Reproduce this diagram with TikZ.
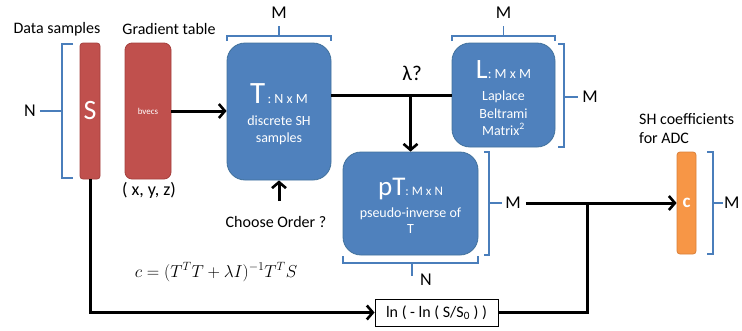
\documentclass[tikz,border=0pt]{standalone}
\usepackage[no-math]{fontspec}
\setmainfont{Carlito}
\usetikzlibrary{arrows.meta}
\definecolor{boxred}{HTML}{C0504D}
\definecolor{redline}{HTML}{A5403D}
\definecolor{boxblue}{HTML}{4F81BD}
\definecolor{blueline}{HTML}{41719C}
\definecolor{boxorange}{HTML}{F79646}
\definecolor{orangeline}{HTML}{D9803A}
\definecolor{brkblue}{HTML}{4A7EBB}
\newcommand\pxsize[1]{\fontsize{#1}{#1}\selectfont}
\begin{document}
\begin{tikzpicture}[x=1pt,y=-1pt,
  conn/.style={line width=3pt},
  arr/.style={conn,-{Straight Barb[length=6pt,width=14pt,line width=2.6pt]}},
  brk/.style={draw=brkblue,line width=1.7pt},
  lbl/.style={inner sep=0,font=\pxsize{16}},
  intext/.style={text=white,inner sep=0},
  redbar/.style={draw=redline,fill=boxred,line width=0.8pt,inner sep=0},
  bluebox/.style={draw=blueline,fill=boxblue,line width=0.8pt,rounded corners=18pt,inner sep=0},
  orangebar/.style={draw=orangeline,fill=boxorange,line width=0.8pt,rounded corners=3pt,inner sep=0}
]
\useasboundingbox (0,0) rectangle (742,330);

% ---- column headers ----
\node[lbl] (hdata) at (57,29) {Data samples};
\node[lbl] (hgrad) at (169,29) {Gradient table};

% ---- data samples S ----
\node[redbar,rounded corners=3pt,minimum width=20pt,minimum height=136pt] (S) at (90,111) {};
\node[intext,font=\pxsize{28}] (St) at (90,111) {S};
\draw[brk] (73,44) -- (62,44) -- (62,178) -- (73,178);
\draw[brk] (62,111) -- (40,111);
\node[lbl,font=\pxsize{18}] (Sn) at (30,111) {N};

% ---- gradient table ----
\node[redbar,rounded corners=7pt,minimum width=46pt,minimum height=136pt] (bv) at (148,111) {};
\node[intext,font=\pxsize{9}] (bvt) at (148,111) {bvecs};
\node[lbl,font=\pxsize{18}] (xyz) at (149,190) {( x, y, z)};

% ---- T : N x M ----
\node[bluebox,minimum width=104pt,minimum height=137pt] (T) at (279,111.5) {};
\node[intext,anchor=base] (Tt) at (279,103) {{\pxsize{31}T}{\pxsize{14}\,: N x M}};
\node[intext,anchor=base,font=\pxsize{14}] (Td1) at (279,125) {discrete SH};
\node[intext,anchor=base,font=\pxsize{14}] (Td2) at (279,142) {samples};
\draw[brk] (227,41) -- (227,36) -- (331,36) -- (331,41);
\draw[brk] (279,36) -- (279,26);
\node[lbl,font=\pxsize{18}] (TM) at (279,13) {M};

% ---- L : M x M ----
\node[bluebox,minimum width=103pt,minimum height=104pt] (L) at (503.5,95) {};
\node[intext,anchor=base] (Lt) at (503.5,78) {{\pxsize{28}L}{\pxsize{14}: M x M}};
\node[intext,anchor=base,font=\pxsize{14}] (Ld1) at (503.5,100) {Laplace};
\node[intext,anchor=base,font=\pxsize{14}] (Ld2) at (503.5,118) {Beltrami};
\node[intext,anchor=base,font=\pxsize{14}] (Ld3) at (503.5,135) {Matrix\textsuperscript{2}};
\draw[brk] (452,41) -- (452,36) -- (555,36) -- (555,41);
\draw[brk] (503.5,36) -- (503.5,26);
\node[lbl,font=\pxsize{18}] (LM1) at (503.5,13) {M};
\draw[brk] (558,44) -- (564,44) -- (564,147) -- (558,147);
\draw[brk] (564,97) -- (578,97);
\node[lbl,font=\pxsize{18}] (LM2) at (590,97) {M};

% ---- pT : M x N ----
\node[bluebox,minimum width=135pt,minimum height=103pt] (pT) at (410.5,203.5) {};
\node[intext,anchor=base] (pTt) at (410.5,195) {{\pxsize{27}pT}{\pxsize{13}: M x N}};
\node[intext,anchor=base,font=\pxsize{14}] (pTd1) at (410.5,217) {pseudo-inverse of};
\node[intext,anchor=base,font=\pxsize{14}] (pTd2) at (410.5,233) {T};
\draw[brk] (484,152) -- (489,152) -- (489,255) -- (484,255);
\draw[brk] (489,203) -- (502,203);
\node[lbl,font=\pxsize{18}] (pTM) at (513,203) {M};
\draw[brk] (343,256) -- (343,263) -- (478,263) -- (478,256);
\draw[brk] (412,263) -- (412,276);
\node[lbl,font=\pxsize{18}] (pTN) at (426,280) {N};

% ---- c : SH coefficients ----
\node[orangebar,minimum width=19pt,minimum height=102pt] (c) at (686.5,203) {};
\node[intext,font=\bfseries\pxsize{19}] (ct) at (686.5,203) {c};
\node[lbl,anchor=west,align=left,font=\pxsize{16}] (chead) at (639,129) {SH coefficients\\[3pt]for ADC};
\draw[brk] (707,152) -- (713,152) -- (713,254) -- (707,254);
\draw[brk] (713,203) -- (723,203);
\node[lbl,font=\pxsize{18},anchor=west] (cM) at (724,203) {M};

% ---- log transform ----
\node[draw=black,line width=0.9pt,minimum width=123pt,minimum height=27pt,inner sep=0,font=\pxsize{16}] (ln) at (436.5,312.5) {ln ( - ln ( S/S\textsubscript{0} ) )};

% ---- text labels ----
\node[lbl] (co) at (276,222) {Choose Order ?};
\node[lbl,font=\pxsize{21}] (lam) at (412,73) {λ?};
\node[inner sep=0,font=\pxsize{17}] (eq) at (216,272) {$c = (T^TT + \lambda I)^{-1}T^TS$};

% ---- connectors ----
\coordinate (lamj) at (410.5,95);
\coordinate (coTop) at (279,201);
\coordinate (cj) at (587,203);
\draw[arr] (bv.east) -- (T.west |- bv.east);
\draw[conn] (T.east |- L.west) -- (L.west);
\draw[arr] (lamj) -- (pT.north);
\draw[arr] (coTop) -- (T.south);
\draw[arr] (pTM.east) ++(5,0) -- (c.west);
\draw[arr] (S.south) |- (ln.west);
\draw[conn] (ln.east) -| (cj);
\end{tikzpicture}
\end{document}
